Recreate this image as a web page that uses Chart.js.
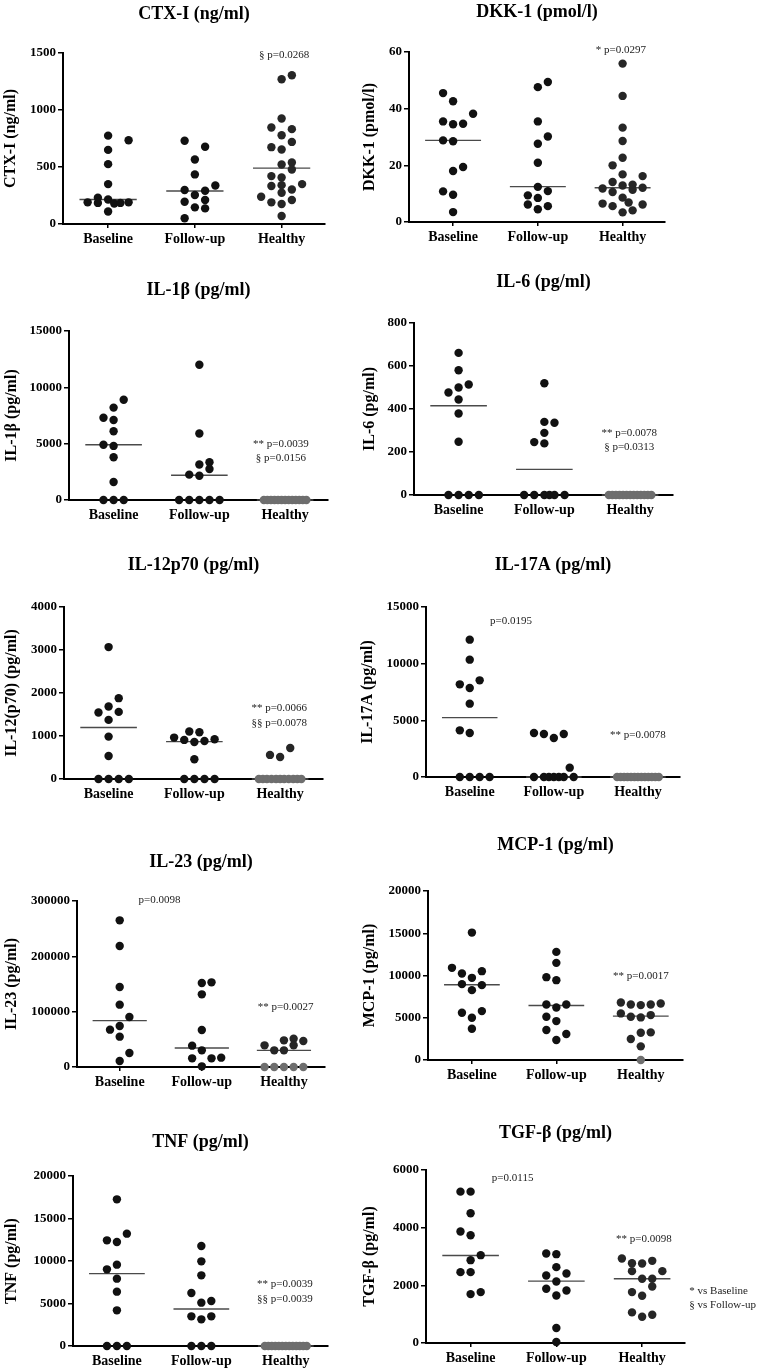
<!DOCTYPE html>
<html>
<head>
<meta charset="utf-8">
<script src="https://cdn.jsdelivr.net/npm/chart.js@4.4.1/dist/chart.umd.min.js"></script>
<style>
  body { margin: 0; background: #fff; width: 772px; height: 1370px; position: relative; overflow: hidden; }
  canvas { position: absolute; }
</style>
</head>
<body>
<script>
// ---------------------------------------------------------------
// Data (values, x-jitter in dot widths, medians)
// ---------------------------------------------------------------
const CATS = ['Baseline', 'Follow-up', 'Healthy'];

// CTX-I (ng/ml)
const CTX_TICKS = [0, 500, 1000, 1500];
const CTX_B  = [775, 735, 650, 525, 350, 230, 215, 190, 185, 180, 185, 190, 110];
const CTX_BJ = [0, 2, 0, 0, 0, -1, 0, -2, -1, 0.6, 1.2, 2, 0];
const CTX_F  = [730, 677, 566, 435, 338, 298, 292, 254, 210, 195, 146, 137, 50];
const CTX_FJ = [-1, 1, 0, 0, 2, -1, 1, 0, 1, -1, 0, 1, -1];
const CTX_H  = [1270, 1305, 925, 846, 832, 779, 720, 674, 653, 540, 522, 478, 420, 408, 333, 341, 350, 303, 274, 239, 190, 210, 175, 70];
const CTX_HJ = [0, 1, 0, -1, 1, 0, 1, -1, 0, 1, 0, 1, -1, 0, -1, 0, 2, 1, 0, -2, -1, 1, 0, 0];
const CTX_MED = [215, 290, 490];
const CTX_NOTES = [{ t: '§ p=0.0268', x: 2.03, y: 1485 }];

// DKK-1 (pmol/l)
const DKK_TICKS = [0, 20, 40, 60];
const DKK_B  = [45.5, 42.6, 38.2, 35.5, 34.5, 34.7, 28.8, 28.5, 19.4, 18.0, 10.8, 9.6, 3.5];
const DKK_BJ = [-1, 0, 2, -1, 0, 1, -1, 0, 1, 0, -1, 0, 0];
const DKK_F  = [47.6, 49.4, 35.5, 30.2, 27.6, 20.9, 12.4, 10.9, 9.4, 8.5, 6.2, 5.6, 4.5];
const DKK_FJ = [0, 1, 0, 1, 0, 0, 0, 1, -1, 0, -1, 1, 0];
const DKK_H  = [55.9, 44.5, 33.3, 28.6, 22.7, 20.0, 16.8, 16.2, 14.1, 12.9, 13.2, 11.8, 10.6, 11.4, 12.1, 8.6, 6.9, 6.5, 5.6, 6.2, 4.1, 3.4];
const DKK_HJ = [0, 0, 0, 0, 0, -1, 0, 2, -1, 0, 1, -2, -1, 1, 2, 0, 0.6, -2, -1, 2, 1, 0];
const DKK_MED = [28.8, 12.5, 12.1];
const DKK_NOTES = [{ t: '* p=0.0297', x: 1.98, y: 60.6 }];

// shared zero rows of the healthy group
const ZERO13  = [0, 0, 0, 0, 0, 0, 0, 0, 0, 0, 0, 0, 0];
const ZERO13J = [-2.1, -1.75, -1.4, -1.05, -0.7, -0.35, 0, 0.35, 0.7, 1.05, 1.4, 1.75, 2.1];

// IL-1beta (pg/ml)
const IL1_TICKS = [0, 5000, 10000, 15000];
const IL1_B  = [8900, 8200, 7300, 7100, 6100, 4900, 4800, 3800, 1600, 0, 0, 0];
const IL1_BJ = [1, 0, -1, 0, 0, -1, 0, 0, 0, -1, 0, 1];
const IL1_F  = [12000, 5900, 3150, 3350, 2750, 2250, 2150, 0, 0, 0, 0, 0];
const IL1_FJ = [0, 0, 0, 1, 1, -1, 0, -2, -1, 0, 1, 2];
const IL1_MED = [4900, 2200, 0];
const IL1_NOTES = [{ t: '** p=0.0039', x: 1.95, y: 4960 }, { t: '§ p=0.0156', x: 1.95, y: 3720 }];

// IL-6 (pg/ml)
const IL6_TICKS = [0, 200, 400, 600, 800];
const IL6_B  = [661, 580, 514, 500, 477, 444, 379, 248, 0, 0, 0, 0];
const IL6_BJ = [0, 0, 1, 0, -1, 0, 0, 0, -1, 0, 1, 2];
const IL6_F  = [520, 340, 336, 289, 246, 240, 0, 0, 0, 0, 0, 0];
const IL6_FJ = [0, 0, 1, 0, -1, 0, -2, -1, 0, 0.5, 1, 2];
const IL6_MED = [415, 119, 0];
const IL6_NOTES = [{ t: '** p=0.0078', x: 1.99, y: 286 }, { t: '§ p=0.0313', x: 1.99, y: 224 }];

// IL-12p70 (pg/ml)
const IL12_TICKS = [0, 1000, 2000, 3000, 4000];
const IL12_B  = [3068, 1880, 1685, 1546, 1561, 1375, 986, 536, 0, 0, 0, 0];
const IL12_BJ = [0, 1, 0, -1, 1, 0, 0, 0, -1, 0, 1, 2];
const IL12_F  = [963, 1103, 1087, 909, 862, 885, 924, 458, 0, 0, 0, 0];
const IL12_FJ = [-2, -0.5, 0.5, -1, 0, 1, 2, 0, -1, 0, 1, 2];
const IL12_H  = [560, 513, 722, 0, 0, 0, 0, 0, 0, 0, 0, 0, 0, 0];
const IL12_HJ = [-1, 0, 1, -2.1, -1.7, -1.3, -0.85, -0.4, 0, 0.4, 0.85, 1.3, 1.7, 2.1];
const IL12_MED = [1196, 870, 0];
const IL12_NOTES = [{ t: '** p=0.0066', x: 1.99, y: 1647 }, { t: '§§ p=0.0078', x: 1.99, y: 1297 }];

// IL-17A (pg/ml)
const IL17_TICKS = [0, 5000, 10000, 15000];
const IL17_B  = [12118, 10353, 8176, 7853, 8529, 6471, 4118, 3882, 0, 0, 0, 0];
const IL17_BJ = [0, 0, -1, 0, 1, 0, -1, 0, -1, 0, 1, 2];
const IL17_F  = [3882, 3794, 3441, 3794, 824, 0, 0, 0, 0, 0, 0, 0];
const IL17_FJ = [-2, -1, 0, 1, 1.6, -2, -1, -0.5, 0, 0.5, 1, 2];
const IL17_MED = [5235, 0, 0];
const IL17_NOTES = [{ t: 'p=0.0195', x: 0.49, y: 13765 }, { t: '** p=0.0078', x: 2.0, y: 3676 }];

// IL-23 (pg/ml)
const IL23_TICKS = [0, 100000, 200000, 300000];
const IL23_B  = [265060, 218675, 144578, 112651, 90361, 67470, 74096, 54819, 25301, 10843];
const IL23_BJ = [0, 0, 0, 0, 1, -1, 0, 0, 1, 0];
const IL23_F  = [151807, 153012, 131325, 66867, 38554, 30120, 15663, 15663, 16867, 1200];
const IL23_FJ = [0, 1, 0, 0, -1, 0, -1, 1, 2, 0];
const IL23_H  = [39157, 30120, 30120, 48193, 51205, 39157, 46988, 0, 0, 0, 0, 0];
const IL23_HJ = [-2, -1, 0, 0, 1, 1, 2, -2, -1, 0, 1, 2];
const IL23_MED = [83735, 34337, 30120];
const IL23_NOTES = [{ t: 'p=0.0098', x: 0.485, y: 302400 }, { t: '** p=0.0027', x: 2.02, y: 108434 }];

// MCP-1 (pg/ml)
const MCP_TICKS = [0, 5000, 10000, 15000, 20000];
const MCP_B  = [15079, 10906, 10236, 9724, 10512, 8976, 8858, 8268, 5591, 5787, 5000, 3701];
const MCP_BJ = [0, -2, -1, 0, 1, -1, 1, 0, -1, 1, 0, 0];
const MCP_F  = [12795, 11496, 9803, 9449, 6575, 6220, 6575, 5118, 4606, 3543, 3071, 2362];
const MCP_FJ = [0, 0, -1, 0, -1, 0, 1, -1, 0, -1, 1, 0];
const MCP_H  = [6811, 6575, 6496, 6575, 6693, 5512, 5118, 5039, 5315, 3228, 3268, 2480, 1614, 0];
const MCP_HJ = [-2, -1, 0, 1, 2, -2, -1, 0, 1, 0, 1, -1, 0, 0];
const MCP_MED = [8898, 6457, 5197];
const MCP_NOTES = [{ t: '** p=0.0017', x: 2.0, y: 9961 }];

// TNF (pg/ml)
const TNF_TICKS = [0, 5000, 10000, 15000, 20000];
const TNF_B  = [17255, 12431, 12235, 13216, 9020, 9569, 7922, 6392, 4196, 0, 0, 0];
const TNF_BJ = [0, -1, 0, 1, -1, 0, 0, 0, 0, -1, 0, 1];
const TNF_F  = [11765, 9961, 8314, 6235, 5098, 5294, 3490, 3137, 3490, 0, 0, 0];
const TNF_FJ = [0, 0, 0, -1, 0, 1, -1, 0, 1, -1, 0, 1];
const TNF_MED = [8510, 4353, 0];
const TNF_NOTES = [{ t: '** p=0.0039', x: 1.99, y: 7333 }, { t: '§§ p=0.0039', x: 1.99, y: 5569 }];

// TGF-beta (pg/ml)
const TGF_TICKS = [0, 2000, 4000, 6000];
const TGF_B  = [5250, 5250, 4500, 3865, 3738, 3046, 2873, 2458, 2458, 1765, 1696];
const TGF_BJ = [-1, 0, 0, -1, 0, 1, 0, -1, 0, 1, 0];
const TGF_F  = [3104, 3081, 2631, 2342, 2412, 2135, 1881, 1823, 1650, 519, 35];
const TGF_FJ = [-1, 0, 0, -1, 1, 0, -1, 1, 0, 0, 0];
const TGF_H  = [2931, 2769, 2758, 2850, 2492, 2492, 2227, 2227, 1962, 1765, 1638, 1062, 912, 981];
const TGF_HJ = [-2, -1, 0, 1, -1, 2, 0, 1, 1, -1, 0, -1, 0, 1];
const TGF_MED = [3035, 2146, 2227];
const TGF_NOTES = [
  { t: 'p=0.0115', x: 0.49, y: 5712 },
  { t: '** p=0.0098', x: 2.02, y: 3600 },
  { t: '* vs Baseline', x: 2.55, y: 1788, left: true },
  { t: '§ vs Follow-up', x: 2.55, y: 1304, left: true }
];

// ---------------------------------------------------------------
// Panel layout
// ---------------------------------------------------------------
const STEP = 0.118;          // one dot width in category units
const X_MIN = -0.52, X_MAX = 2.5;
const MED_HALF = 0.33;

const PANELS = [
  { title: 'CTX-I (ng/ml)', yTitle: 'CTX-I (ng/ml)', ticks: CTX_TICKS,
    vals: [CTX_B, CTX_F, CTX_H], jit: [CTX_BJ, CTX_FJ, CTX_HJ], med: CTX_MED, notes: CTX_NOTES,
    box: [0, 0, 386, 262], plot: [63, 53, 325, 224], titleY: 14, yTitleX: 11 },
  { title: 'DKK-1 (pmol/l)', yTitle: 'DKK-1 (pmol/l)', ticks: DKK_TICKS,
    vals: [DKK_B, DKK_F, DKK_H], jit: [DKK_BJ, DKK_FJ, DKK_HJ], med: DKK_MED, notes: DKK_NOTES,
    box: [340, 0, 432, 262], plot: [409, 52, 665, 222], titleY: 12, yTitleX: 370 },
  { title: 'IL-1β (pg/ml)', yTitle: 'IL-1β (pg/ml)', ticks: IL1_TICKS,
    vals: [IL1_B, IL1_F, ZERO13], jit: [IL1_BJ, IL1_FJ, ZERO13J], med: IL1_MED, notes: IL1_NOTES,
    box: [0, 262, 386, 278], plot: [69, 331, 328, 500], titleY: 290, yTitleX: 12 },
  { title: 'IL-6 (pg/ml)', yTitle: 'IL-6 (pg/ml)', ticks: IL6_TICKS,
    vals: [IL6_B, IL6_F, ZERO13], jit: [IL6_BJ, IL6_FJ, ZERO13J], med: IL6_MED, notes: IL6_NOTES,
    box: [340, 262, 432, 278], plot: [414, 323, 673, 495], titleY: 282, yTitleX: 370 },
  { title: 'IL-12p70 (pg/ml)', yTitle: 'IL-12(p70) (pg/ml)', ticks: IL12_TICKS,
    vals: [IL12_B, IL12_F, IL12_H], jit: [IL12_BJ, IL12_FJ, IL12_HJ], med: IL12_MED, notes: IL12_NOTES,
    box: [0, 540, 386, 280], plot: [64, 607, 323, 779], titleY: 565, yTitleX: 12 },
  { title: 'IL-17A (pg/ml)', yTitle: 'IL-17A (pg/ml)', ticks: IL17_TICKS,
    vals: [IL17_B, IL17_F, ZERO13], jit: [IL17_BJ, IL17_FJ, ZERO13J], med: IL17_MED, notes: IL17_NOTES,
    box: [340, 540, 432, 280], plot: [426, 607, 680, 777], titleY: 565, yTitleX: 368 },
  { title: 'IL-23 (pg/ml)', yTitle: 'IL-23 (pg/ml)', ticks: IL23_TICKS,
    vals: [IL23_B, IL23_F, IL23_H], jit: [IL23_BJ, IL23_FJ, IL23_HJ], med: IL23_MED, notes: IL23_NOTES,
    box: [0, 820, 386, 280], plot: [77, 901, 325, 1067], titleY: 862, yTitleX: 12 },
  { title: 'MCP-1 (pg/ml)', yTitle: 'MCP-1 (pg/ml)', ticks: MCP_TICKS,
    vals: [MCP_B, MCP_F, MCP_H], jit: [MCP_BJ, MCP_FJ, MCP_HJ], med: MCP_MED, notes: MCP_NOTES,
    box: [340, 820, 432, 280], plot: [428, 891, 683, 1060], titleY: 845, yTitleX: 370 },
  { title: 'TNF (pg/ml)', yTitle: 'TNF (pg/ml)', ticks: TNF_TICKS,
    vals: [TNF_B, TNF_F, ZERO13], jit: [TNF_BJ, TNF_FJ, ZERO13J], med: TNF_MED, notes: TNF_NOTES,
    box: [0, 1100, 386, 270], plot: [73, 1176, 328, 1346], titleY: 1142, yTitleX: 12 },
  { title: 'TGF-β (pg/ml)', yTitle: 'TGF-β (pg/ml)', ticks: TGF_TICKS,
    vals: [TGF_B, TGF_F, TGF_H], jit: [TGF_BJ, TGF_FJ, TGF_HJ], med: TGF_MED, notes: TGF_NOTES,
    box: [340, 1100, 432, 270], plot: [426, 1170, 685, 1343], titleY: 1133, yTitleX: 370 }
];

const FONT = '"Liberation Serif", "Times New Roman", serif';
const Y_AXIS_W = 55, X_AXIS_H = 24;

Chart.defaults.font.family = FONT;
Chart.defaults.color = '#000';

// titles, rotated y title and p-value notes
const panelText = {
  id: 'panelText',
  afterDraw(chart, args, o) {
    const { ctx, chartArea: a, scales: { x, y } } = chart;
    ctx.save();
    ctx.fillStyle = '#000';
    ctx.textAlign = 'center';
    ctx.textBaseline = 'middle';
    ctx.font = 'bold 18px ' + FONT;
    ctx.fillText(o.title, (a.left + a.right) / 2, o.titleY);

    ctx.font = '11px ' + FONT;
    ctx.fillStyle = '#222';
    o.notes.forEach(n => {
      ctx.textAlign = n.left ? 'left' : 'center';
      ctx.fillText(n.t, x.getPixelForValue(n.x), y.getPixelForValue(n.y));
    });

    ctx.fillStyle = '#000';
    ctx.textAlign = 'center';
    ctx.translate(o.yTitleX, (a.top + a.bottom) / 2);
    ctx.rotate(-Math.PI / 2);
    ctx.font = 'bold 16px ' + FONT;
    ctx.fillText(o.yTitle, 0, 0);
    ctx.restore();
  }
};

function groupPoints(vals, jit, g) {
  return vals.map((v, i) => ({ x: g + jit[i] * STEP, y: v }));
}

PANELS.forEach(p => {
  const [bx, by, bw, bh] = p.box;
  const [pl, pt, pr, pb] = p.plot;
  const cv = document.createElement('canvas');
  cv.width = bw; cv.height = bh;
  cv.style.left = bx + 'px'; cv.style.top = by + 'px';
  document.body.appendChild(cv);

  const datasets = [];
  p.vals.forEach((vals, g) => {
    datasets.push({
      type: 'scatter',
      data: groupPoints(vals, p.jit[g], g),
      pointRadius: 4.2,
      pointHoverRadius: 4.2,
      pointBorderWidth: 0,
      pointBackgroundColor: ctx => (g === 2 ? (ctx.raw && ctx.raw.y === 0 ? '#6e6e6e' : '#262626') : '#111'),
      clip: false
    });
  });
  p.med.forEach((m, g) => {
    datasets.push({
      type: 'line',
      data: [{ x: g - MED_HALF, y: m }, { x: g + MED_HALF, y: m }],
      borderColor: '#4a4a4a',
      borderWidth: 1.4,
      pointRadius: 0,
      clip: false
    });
  });

  const yMax = p.ticks[p.ticks.length - 1];
  new Chart(cv.getContext('2d'), {
    type: 'scatter',
    data: { datasets },
    options: {
      responsive: false,
      animation: false,
      events: [],
      layout: {
        padding: {
          left: pl - bx - Y_AXIS_W,
          top: pt - by,
          right: bx + bw - pr,
          bottom: by + bh - pb - X_AXIS_H
        }
      },
      plugins: {
        legend: { display: false },
        tooltip: { enabled: false },
        panelText: {
          title: p.title, titleY: p.titleY - by, yTitle: p.yTitle,
          yTitleX: p.yTitleX - bx, notes: p.notes
        }
      },
      scales: {
        x: {
          type: 'linear', min: X_MIN, max: X_MAX,
          afterBuildTicks: s => { s.ticks = CATS.map((c, i) => ({ value: i })); },
          afterFit: s => { s.height = X_AXIS_H; },
          ticks: {
            callback: v => CATS[v],
            autoSkip: false, maxRotation: 0, padding: 3,
            font: { size: 14, weight: 'bold' }, color: '#000'
          },
          grid: { drawOnChartArea: false, drawTicks: true, tickLength: 4, color: '#000', lineWidth: 1.5 },
          border: { display: true, color: '#000', width: 2 }
        },
        y: {
          type: 'linear', min: 0, max: yMax,
          afterBuildTicks: s => { s.ticks = p.ticks.map(v => ({ value: v })); },
          afterFit: s => { s.width = Y_AXIS_W; },
          ticks: {
            callback: v => String(v),
            padding: 2,
            font: { size: 13, weight: 'bold' }, color: '#000'
          },
          grid: { drawOnChartArea: false, drawTicks: true, tickLength: 5, color: '#000', lineWidth: 1.5 },
          border: { display: true, color: '#000', width: 2 }
        }
      }
    },
    plugins: [panelText]
  });
});
</script>
</body>
</html>
